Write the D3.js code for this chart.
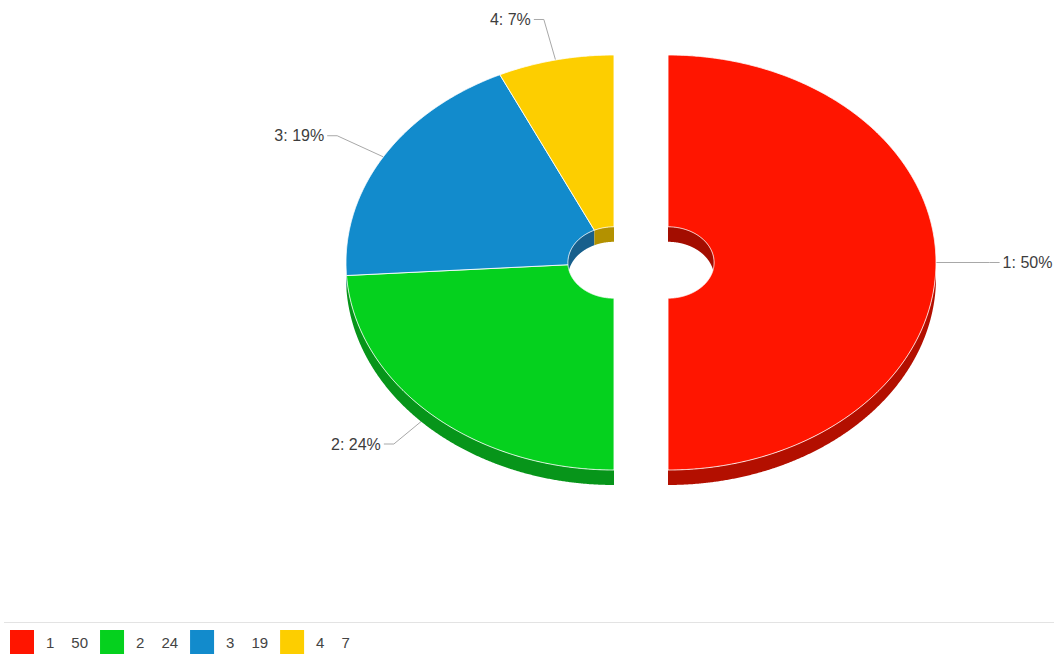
<!DOCTYPE html>
<html>
<head>
<meta charset="utf-8">
<script src="https://cdn.jsdelivr.net/npm/d3@7"></script>
<style>
  body { margin: 0; background: #fff; }
  text { font-family: "Liberation Sans", Arial, sans-serif; }
</style>
</head>
<body>
<svg id="chart" width="1054" height="654"></svg>
<script>
// Slice data
const categories = ["1", "2", "3", "4"];
const values = [50, 24, 19, 7];
const colors = ["#ff1500", "#05d11e", "#128bcc", "#fdce00"];
const sideColors = ["#b30f00", "#07951a", "#0c6898", "#b89400"];
const wallColors = ["#a30d00", "#06801a", "#175f8c", "#b39100"];

const W = 1054, H = 654;
const svg = d3.select("#chart");

// Pie geometry (elliptical top face with a thin extruded rim)
const cx = 641, cy = 262.5;
const rx = 268, ry = 207.5;
const holeRatio = 0.172;
const depth = 15;
const split = 27;           // horizontal separation of the first slice from the rest
const labelRatio = 1.2;     // leader elbow distance (relative to the outer radius)
const tail = 10;

const xs = d3.scaleLinear().domain([-1, 1]).range([cx - rx, cx + rx]);
const ys = d3.scaleLinear().domain([-1, 1]).range([cy + ry, cy - ry]);

const pie = d3.pie().sort(null).startAngle(0).endAngle(2 * Math.PI);
const arcs = pie(values);
const total = d3.sum(values);

const shiftOf = i => (i === 0 ? split : -split);
const pt = (a, r, dx, dy = 0) => [xs(r * Math.sin(a)) + dx, ys(r * Math.cos(a)) + dy];
const line = d3.line();
const step = Math.PI / 720;

function sample(a0, a1) {
  const n = Math.max(2, Math.ceil(Math.abs(a1 - a0) / step));
  return d3.range(n + 1).map(k => a0 + (a1 - a0) * k / n);
}

function topFace(d, dx) {
  const outer = sample(d.startAngle, d.endAngle).map(a => pt(a, 1, dx));
  const inner = sample(d.endAngle, d.startAngle).map(a => pt(a, holeRatio, dx));
  return line(outer.concat(inner)) + "Z";
}

function band(a0, a1, r, dx) {
  const upper = sample(a0, a1).map(a => pt(a, r, dx));
  const lower = sample(a1, a0).map(a => pt(a, r, dx, depth));
  return line(upper.concat(lower)) + "Z";
}

const gPie = svg.append("g");
const gLines = gPie.append("g");
const gSide = gPie.append("g");
const gWall = gPie.append("g");
const gTop = gPie.append("g");
const gLabels = svg.append("g");

arcs.forEach((d, i) => {
  const dx = shiftOf(i);

  // outer rim, visible along the front half
  const s = Math.max(d.startAngle, Math.PI / 2), e = Math.min(d.endAngle, 3 * Math.PI / 2);
  if (s < e) {
    gSide.append("path").attr("d", band(s, e, 1, dx)).attr("fill", sideColors[i]);
  }

  // inner wall of the hole, visible along the back half
  [[0, Math.PI / 2], [3 * Math.PI / 2, 2 * Math.PI]].forEach(([lo, hi]) => {
    const ws = Math.max(d.startAngle, lo), we = Math.min(d.endAngle, hi);
    if (ws < we) {
      gWall.append("path").attr("d", band(ws, we, holeRatio, dx)).attr("fill", wallColors[i]);
    }
  });

  // top face
  gTop.append("path")
    .attr("d", topFace(d, dx))
    .attr("fill", colors[i])
    .attr("stroke", "#ffffff")
    .attr("stroke-opacity", 0.85)
    .attr("stroke-width", 1)
    .attr("stroke-linejoin", "round");

  // leader line and label
  const mid = (d.startAngle + d.endAngle) / 2;
  const edge = pt(mid, 1, dx);
  const elbow = pt(mid, labelRatio, dx);
  const right = Math.sin(mid) >= 0;
  const end = [elbow[0] + (right ? tail : -tail), elbow[1]];
  gLines.append("path")
    .attr("d", line([edge, elbow, end]))
    .attr("fill", "none")
    .attr("stroke", "#a8a8a8")
    .attr("stroke-width", 1);

  const pct = Math.round(values[i] / total * 100);
  gLabels.append("text")
    .attr("x", end[0] + (right ? 3 : -3))
    .attr("y", end[1] + 5.5)
    .attr("text-anchor", right ? "start" : "end")
    .attr("font-size", 16)
    .attr("fill", "#3d3d3d")
    .text(`${categories[i]}: ${pct}%`);
});

// Legend
svg.append("line")
  .attr("x1", 4).attr("x2", W)
  .attr("y1", 622.5).attr("y2", 622.5)
  .attr("stroke", "#e3e3e3").attr("stroke-width", 1);

const gLegend = svg.append("g");
let lx = 10;
categories.forEach((c, i) => {
  gLegend.append("rect")
    .attr("x", lx).attr("y", 630)
    .attr("width", 24).attr("height", 24)
    .attr("fill", colors[i]);
  lx += 24 + 12;
  const t1 = gLegend.append("text")
    .attr("x", lx).attr("y", 648)
    .attr("font-size", 15).attr("fill", "#444")
    .text(c);
  lx += t1.node().getComputedTextLength() + 17;
  const t2 = gLegend.append("text")
    .attr("x", lx).attr("y", 648)
    .attr("font-size", 15).attr("fill", "#444")
    .text(values[i]);
  lx += t2.node().getComputedTextLength() + 12;
});
</script>
</body>
</html>
